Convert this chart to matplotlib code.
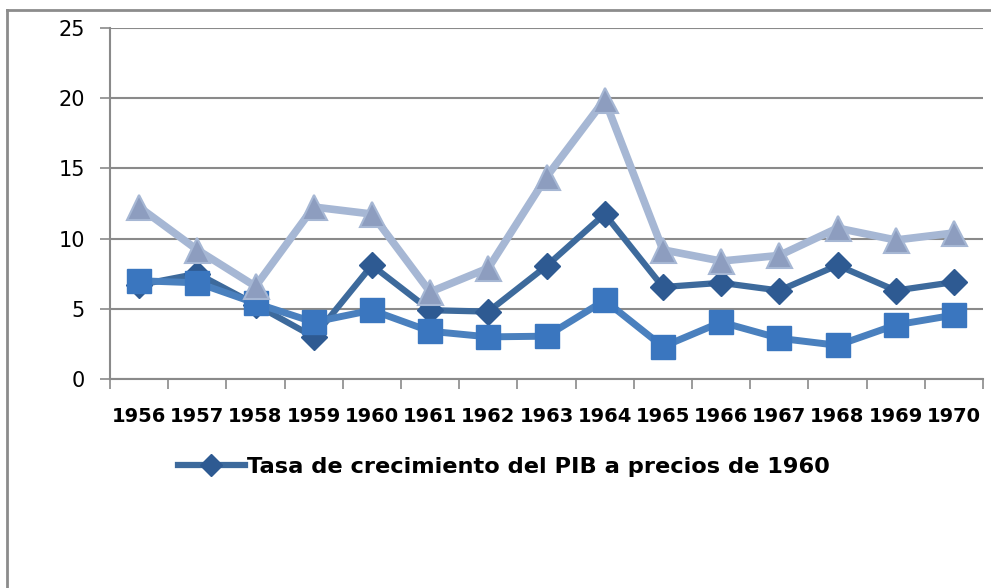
import matplotlib.pyplot as plt
from matplotlib.lines import Line2D

years = [str(y) for y in range(1956, 1971)]

# Tasa de crecimiento del PIB a precios de 1960 (diamonds)
pib_1960 = [6.7, 7.5, 5.3, 3.0, 8.1, 4.9, 4.8, 8.05, 11.75, 6.55, 6.85, 6.3, 8.1, 6.3, 6.9]
# second series (squares)
serie_2 = [7.0, 6.85, 5.4, 4.05, 4.9, 3.4, 3.0, 3.05, 5.6, 2.3, 4.05, 2.9, 2.4, 3.85, 4.55]
# third series (triangles)
serie_3 = [12.25, 9.2, 6.6, 12.25, 11.75, 6.2, 7.9, 14.4, 19.9, 9.2, 8.4, 8.8, 10.75, 9.9, 10.4]

yticks = [0, 5, 10, 15, 20, 25]

grid_col = '#8a8a8a'

fig = plt.figure(figsize=(9.91, 5.88), dpi=100)
ax = fig.add_axes([110 / 991, 1 - 379 / 588, 873 / 991, 351 / 588])

x = range(len(years))

ax.plot(x, pib_1960, color='#3d6a9c', lw=4.5, marker='D', ms=13,
        mfc='#2e5a92', mec='#2e5a92', zorder=3)
ax.plot(x, serie_2, color='#4a80be', lw=5, marker='s', ms=17,
        mfc='#3a76bf', mec='#3a76bf', zorder=4)
ax.plot(x, serie_3, color='#a6b7d4', lw=5.5, marker='^', ms=18,
        mfc='#8d9dbf', mec='#a6b7d4', mew=1.5, zorder=5)

ax.set_xlim(-0.5, len(years) - 0.5)
ax.set_ylim(0, 25)
ax.set_yticks(yticks)
ax.set_yticklabels([str(v) for v in yticks], fontsize=15, color='black')
ax.yaxis.grid(True, color=grid_col, lw=1.5, zorder=0)
ax.set_axisbelow(True)

# category boundaries as ticks, labels in the middle
ax.set_xticks([i - 0.5 for i in range(len(years) + 1)])
ax.set_xticklabels([])
ax.set_xticks(list(x), minor=True)
ax.set_xticklabels(years, minor=True, fontsize=14, fontweight='bold')
ax.tick_params(axis='x', which='major', length=7, width=1.2, color=grid_col, direction='out')
ax.tick_params(axis='x', which='minor', length=0, pad=20)
ax.tick_params(axis='y', length=7, width=1.2, color=grid_col, pad=11)

for s in ['top', 'right']:
    ax.spines[s].set_visible(False)
for s in ['left', 'bottom']:
    ax.spines[s].set_color(grid_col)
    ax.spines[s].set_linewidth(1.5)

handle = Line2D([], [], color='#3d6a9c', lw=4.5, marker='D', ms=11,
                mfc='#2e5a92', mec='#2e5a92')
fig.legend([handle], ['Tasa de crecimiento del PIB a precios de 1960'],
           loc='center', bbox_to_anchor=(504 / 991, 1 - 467 / 588), frameon=False,
           prop={'size': 16.2, 'weight': 'bold'}, handlelength=3.0, handletextpad=0.1)

# outer chart frame (cut off at right and bottom)
fig.add_artist(Line2D([7 / 991, 7 / 991], [0, 1 - 10 / 588], color='#8c8c8c', lw=2,
                      transform=fig.transFigure))
fig.add_artist(Line2D([7 / 991, 1], [1 - 10 / 588, 1 - 10 / 588], color='#8c8c8c', lw=2,
                      transform=fig.transFigure))

fig.savefig('out.png', dpi=100)
